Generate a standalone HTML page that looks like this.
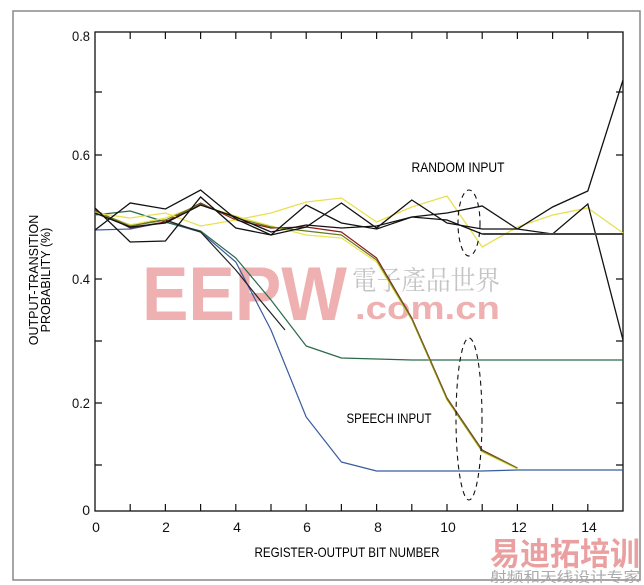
<!DOCTYPE html>
<html><head><meta charset="utf-8"><style>
html,body{margin:0;padding:0;background:#fff;}
svg{display:block;}
text{font-family:"Liberation Sans",sans-serif;}
</style></head><body>
<svg width="644" height="585" viewBox="0 0 644 585" xmlns="http://www.w3.org/2000/svg">
<rect x="0" y="0" width="644" height="585" fill="#fff"/>
<rect x="13" y="11" width="627" height="569" fill="none" stroke="#888" stroke-width="1.5"/>
<!-- watermark -->
<text x="142" y="320" font-size="76" font-weight="bold" fill="#eeb0b0" textLength="205" lengthAdjust="spacingAndGlyphs">EEPW</text>
<text x="352" y="290" font-size="27" fill="#c4c4c4" textLength="148" lengthAdjust="spacingAndGlyphs" style="font-family:'Liberation Serif','Noto Serif CJK SC',serif">電子產品世界</text>
<text x="355" y="319" font-size="32" font-weight="bold" fill="#eeb0b0" textLength="145" lengthAdjust="spacingAndGlyphs">.com.cn</text>
<text x="490" y="565" font-size="32" font-weight="bold" fill="#eaa0a0" textLength="150" lengthAdjust="spacingAndGlyphs" style="font-family:'Liberation Sans','Noto Sans CJK SC',sans-serif">易迪拓培训</text>
<text x="490" y="582" font-size="14" fill="#aaa" textLength="150" lengthAdjust="spacingAndGlyphs" style="font-family:'Liberation Sans','Noto Sans CJK SC',sans-serif">射频和天线设计专家</text>
<!-- axes -->
<rect x="95" y="32" width="528" height="479" fill="none" stroke="#111" stroke-width="1.3"/>
<g stroke="#111" stroke-width="1.2">
<path d="M130.2 511v-7M165.4 511v-7M200.6 511v-7M235.8 511v-7M271 511v-7M306.2 511v-7M341.4 511v-7M376.6 511v-7M411.8 511v-7M447 511v-7M482.2 511v-7M517.4 511v-7M552.6 511v-7M587.8 511v-7"/>
<path d="M130.2 32v7M165.4 32v7M200.6 32v7M235.8 32v7M271 32v7M306.2 32v7M341.4 32v7M376.6 32v7M411.8 32v7M447 32v7M482.2 32v7M517.4 32v7M552.6 32v7M587.8 32v7"/>
<path d="M95 92h7M95 155h7M95 279h7M95 341h7M95 403h7M95 465h7"/>
<path d="M623 92h-7M623 155h-7M623 279h-7M623 341h-7M623 403h-7M623 465h-7"/>
</g>
<g font-size="14" fill="#111" text-anchor="end">
<text x="90" y="41" textLength="18" lengthAdjust="spacingAndGlyphs">0.8</text><text x="90" y="160" textLength="18" lengthAdjust="spacingAndGlyphs">0.6</text><text x="90" y="284" textLength="18" lengthAdjust="spacingAndGlyphs">0.4</text><text x="90" y="408" textLength="18" lengthAdjust="spacingAndGlyphs">0.2</text><text x="90" y="515">0</text>
</g>
<g font-size="14" fill="#111" text-anchor="middle">
<text x="96" y="532">0</text><text x="166" y="532">2</text><text x="237" y="532">4</text><text x="307" y="532">6</text><text x="378" y="532">8</text><text x="448" y="532">10</text><text x="519" y="532">12</text><text x="589" y="532">14</text>
</g>
<text x="347" y="557" font-size="14" text-anchor="middle" textLength="185" lengthAdjust="spacingAndGlyphs">REGISTER-OUTPUT BIT NUMBER</text>
<text transform="translate(38,280) rotate(-90)" font-size="12.5" text-anchor="middle">OUTPUT-TRANSITION</text>
<text transform="translate(50,280) rotate(-90)" font-size="12.5" text-anchor="middle">PROBABILITY (%)</text>
<text x="458" y="172" font-size="14" text-anchor="middle" textLength="93" lengthAdjust="spacingAndGlyphs">RANDOM INPUT</text>
<text x="389" y="423" font-size="14" text-anchor="middle" textLength="85" lengthAdjust="spacingAndGlyphs">SPEECH INPUT</text>
<!-- speech curves -->
<g fill="none" stroke-width="1.2" stroke-linejoin="round">
<polyline stroke="#3a5aa0" points="95,230 130.2,229 165.4,222 200.6,232 235.8,262 271,330 306.2,417 341.4,462 376.6,471 411.8,471 447,471 482.2,471 517.4,470 552.6,470 587.8,470 623,470"/>
<polyline stroke="#2a6a4a" points="95,215 130.2,211 165.4,222 200.6,231 235.8,258 271,300 306.2,346 341.4,358 376.6,359 411.8,360 447,360 482.2,360 517.4,360 552.6,360 587.8,360 623,360"/>
<polyline stroke="#222" points="95,212 130.2,225 165.4,220 200.6,232 235.8,270 260,300 285,330"/>
<polyline stroke="#e6e650" points="95,212 130.2,225 165.4,218 200.6,205 235.8,216 271,226 306.2,235 341.4,238 376.6,262 411.8,320 447,400 482.2,452 517.4,469"/>
<polyline stroke="#8a1a1a" points="95,210 130.2,228 165.4,222 200.6,203 235.8,220 271,228 306.2,227 341.4,232 376.6,258 411.8,318 447,398 482.2,450 517.4,468"/>
<polyline stroke="#6a7a20" points="95,211 130.2,226 165.4,220 200.6,204 235.8,218 271,227 306.2,231 341.4,235 376.6,260 411.8,319 447,399 482.2,451 517.4,468"/>
</g>
<!-- random curves -->
<g fill="none" stroke-width="1.3" stroke-linejoin="miter">
<polyline stroke="#e8e050" points="95,213 130.2,218 165.4,213 200.6,226 235.8,220 271,213 306.2,202 341.4,198 376.6,222 411.8,207 447,196 482.2,247 517.4,227 552.6,215 587.8,208 623,233"/>
<polyline stroke="#111" points="95,230 130.2,203 165.4,209 200.6,190 235.8,219 271,235 306.2,205 341.4,223 376.6,229 411.8,217 447,213 482.2,206 517.4,229 552.6,207 587.8,191 623,80"/>
<polyline stroke="#111" points="95,208 130.2,242 165.4,241 200.6,197 235.8,228 271,235 306.2,227 341.4,203 376.6,228 411.8,200 447,223 482.2,229 517.4,229 552.6,234 587.8,204 623,340"/>
<polyline stroke="#111" points="95,213 130.2,227 165.4,223 200.6,205 235.8,217 271,232 306.2,225 341.4,228 376.6,226 411.8,217 447,220 482.2,234"/>
<line x1="482.2" y1="234" x2="623" y2="234" stroke="#444" stroke-width="2"/>
</g>
<ellipse cx="469" cy="223" rx="11" ry="33" fill="none" stroke="#111" stroke-width="1.1" stroke-dasharray="5,4"/>
<ellipse cx="469" cy="419" rx="13" ry="81" fill="none" stroke="#111" stroke-width="1.1" stroke-dasharray="5,4"/>
</svg>
</body></html>
